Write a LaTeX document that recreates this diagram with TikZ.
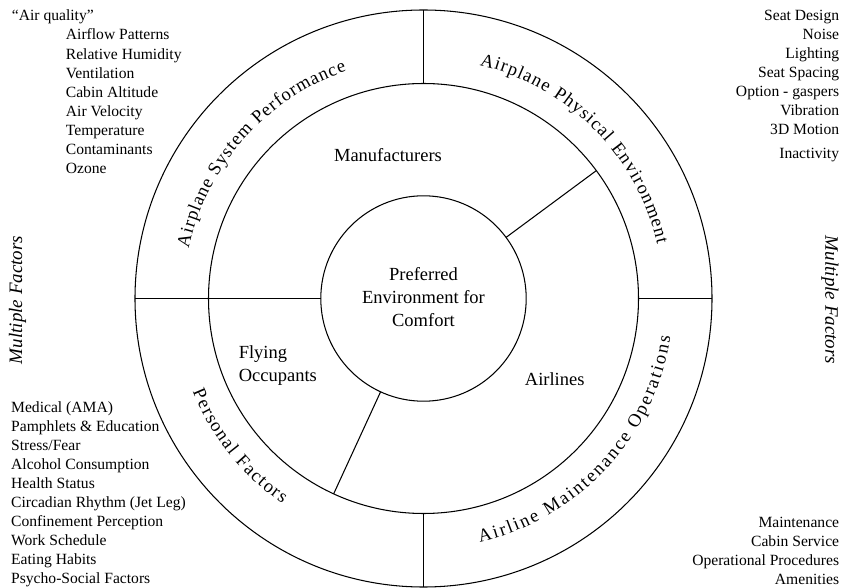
\documentclass[tikz,border=0pt]{standalone}
\usepackage{fontspec}
\setmainfont{Liberation Serif}
\usetikzlibrary{decorations.text}
\newcommand\ringfont{\fontsize{18.5}{22}\selectfont}
\begin{document}
\begin{tikzpicture}[x=1pt,y=1pt,
  ringline/.style={line width=1.05pt},
  listtxt/.style={font=\fontsize{15.6}{19}\selectfont, inner sep=0pt},
  innerlbl/.style={font=\fontsize{18.5}{23}\selectfont, inner sep=0pt, align=center},
  sidetxt/.style={font=\fontsize{19}{23}\selectfont\itshape, inner sep=0pt},
  arctxt/.style={decorate, decoration={text along path, text align={fit to path}, text={|\ringfont|#1}}}
]
\useasboundingbox (0,0) rectangle (841,587);
\coordinate (C) at (423.5,288.5);
% circles
\draw[ringline] (C) circle[radius=288.5pt];
\draw[ringline] (C) circle[radius=215pt];
\draw[ringline] (C) circle[radius=102.7pt];
% outer ring dividers
\draw[ringline] (C) ++(90:215pt) -- ++(90:73.5pt);
\draw[ringline] (C) ++(270:215pt) -- ++(270:73.5pt);
\draw[ringline] (C) ++(0:215pt) -- ++(0:73.5pt);
\draw[ringline] (C) ++(180:102.7pt) -- ++(180:185.8pt);
% inner ring dividers
\draw[ringline] (C) ++(36.5:102.7pt) -- ++(36.5:112.3pt);
\draw[ringline] (C) ++(245.3:102.7pt) -- ++(245.3:112.3pt);
% ring labels
\path[arctxt={Airplane System Performance}] (C) ++(168:240pt) arc[start angle=168, end angle=108.7, radius=240pt];
\path[arctxt={Airplane Physical Environment}] (C) ++(76.5:240pt) arc[start angle=76.5, end angle=13, radius=240pt];
\path[arctxt={Personal Factors}] (C) ++(202:249pt) arc[start angle=202, end angle=235.5, radius=249pt];
\path[arctxt={Airline Maintenance Operations}] (C) ++(283:250pt) arc[start angle=283, end angle=351.2, radius=250pt];
% inner labels
\node[innerlbl] (pref) at (423.5,290) {Preferred\\Environment for\\Comfort};
\node[innerlbl] (manu) at (388,432) {Manufacturers};
\node[innerlbl, align=left, anchor=west] (fly) at (238.6,221) {Flying\\Occupants};
\node[innerlbl] (airl) at (554.7,208) {Airlines};
% side labels
\node[sidetxt, rotate=90] (mfl) at (17.5,287) {Multiple Factors};
\node[sidetxt, rotate=-90] (mfr) at (830,287) {Multiple Factors};
% lists
\node[listtxt, anchor=base west] (aq) at (11.7,566) {“Air quality”};
\foreach \t [count=\i from 0] in {Airflow Patterns, Relative Humidity, Ventilation, Cabin Altitude, Air Velocity, Temperature, Contaminants, Ozone}
  \node[listtxt, anchor=base west] (tl\i) at (65.7,{587-40-19.05*\i}) {\t};
\foreach \t [count=\i from 0] in {Seat Design, Noise, Lighting, Seat Spacing, Option - gaspers, Vibration, 3D Motion}
  \node[listtxt, anchor=base east] (tr\i) at (839.3,{587-21-19*\i}) {\t};
\node[listtxt, anchor=base east] (tr7) at (839.3,{587-158.3}) {Inactivity};
\foreach \t [count=\i from 0] in {Medical (AMA), Pamphlets \& Education, Stress/Fear, Alcohol Consumption, Health Status, Circadian Rhythm (Jet Leg), Confinement Perception, Work Schedule, Eating Habits, Psycho-Social Factors}
  \node[listtxt, anchor=base west] (bl\i) at (11,{587-412-19*\i}) {\t};
\foreach \t [count=\i from 0] in {Maintenance, Cabin Service, Operational Procedures, Amenities}
  \node[listtxt, anchor=base east] (br\i) at (839.3,{587-527-19*\i}) {\t};
\end{tikzpicture}
\end{document}
